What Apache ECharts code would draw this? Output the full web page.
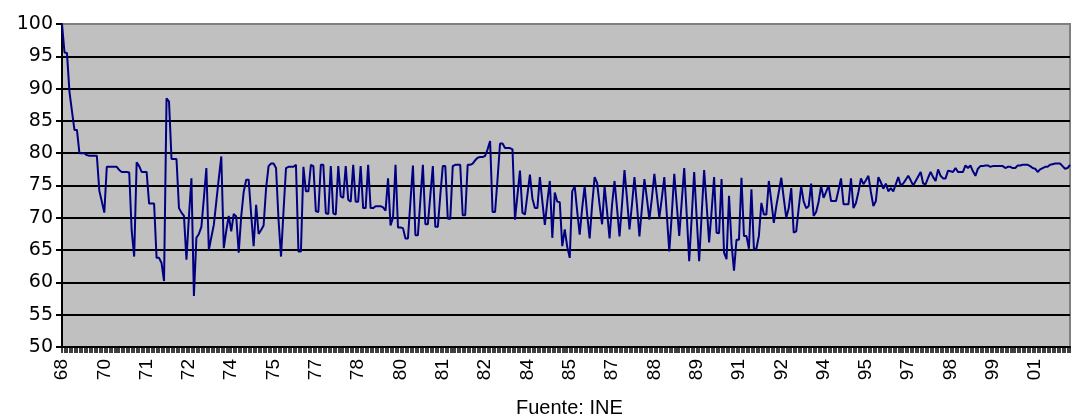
<!DOCTYPE html>
<html>
<head>
<meta charset="utf-8">
<script src="https://cdn.jsdelivr.net/npm/echarts@6/dist/echarts.min.js"></script>
<style>
  html, body { margin: 0; padding: 0; background: #ffffff; }
  #chart { width: 1071px; height: 419px; }
</style>
</head>
<body>
<div id="chart"></div>
<script>
// Monthly index, first observation September 1968
const startYear = 1968;
const startMonth = 9;

// Values in monthly order, split in blocks of 100 months
const valores1968 = [
  100, 95.6, 95.5, 89.5, 86.5, 83.6, 83.6, 80.0, 80.0, 80.0,
  79.7, 79.6, 79.6, 79.6, 79.6, 74.2, 72.5, 70.8, 77.9, 77.9,
  77.9, 77.9, 77.9, 77.4, 77.1, 77.1, 77.1, 77.0, 68.0, 64.0,
  78.6, 78.0, 77.1, 77.1, 77.1, 72.2, 72.2, 72.2, 63.8, 63.8,
  63.0, 60.2, 88.5, 88.0, 79.1, 79.1, 79.1, 71.5, 70.8, 70.3,
  63.5, 70.2, 76.1, 57.9, 66.9, 67.5, 68.6, 73.0, 77.7, 65.0,
  67.0, 68.9, 72.5, 76.1, 79.5, 65.3, 68.0, 70.3, 67.9, 70.6,
  70.2, 64.6, 70.2, 74.0, 75.9, 75.9, 70.5, 65.6, 72.0, 67.5,
  68.1, 68.8, 74.6, 78.0, 78.4, 78.4, 77.7, 69.7, 64.0, 71.0,
  77.7, 77.9, 77.9, 77.9, 78.2, 64.8, 64.8, 77.9, 74.1, 74.1
];
const valores1977 = [
  78.2, 78.0, 71.0, 70.9, 78.2, 78.2, 70.7, 70.6, 78.0, 70.7,
  70.5, 78.0, 73.3, 73.1, 78.0, 72.8, 72.5, 78.2, 72.5, 72.5,
  78.0, 71.5, 71.5, 78.2, 71.5, 71.5, 71.8, 71.8, 71.8, 71.6,
  71.1, 76.1, 68.8, 70.0, 78.2, 68.5, 68.5, 68.4, 66.8, 66.8,
  72.5, 78.1, 67.3, 67.3, 72.8, 78.2, 69.0, 69.0, 73.5, 78.0,
  68.6, 68.6, 73.5, 78.0, 78.0, 69.9, 69.8, 78.0, 78.2, 78.2,
  78.2, 70.4, 70.4, 78.2, 78.2, 78.4, 78.9, 79.3, 79.4, 79.4,
  79.6, 80.6, 81.9, 70.9, 70.9, 76.0, 81.5, 81.5, 80.8, 80.8,
  80.8, 80.6, 69.7, 73.5, 77.3, 70.8, 70.5, 73.6, 76.7, 73.0,
  71.5, 71.5, 76.3, 72.5, 68.9, 72.5, 75.7, 66.9, 73.9, 72.5
];
const valores1985 = [
  72.4, 65.6, 68.2, 65.5, 63.8, 74.1, 74.9, 71.0, 67.4, 71.5,
  74.9, 70.5, 66.8, 72.0, 76.3, 75.4, 72.0, 69.0, 74.9, 71.0,
  66.8, 72.0, 75.7, 71.5, 67.1, 72.0, 77.4, 73.0, 68.2, 72.0,
  76.3, 72.0, 67.1, 71.5, 76.0, 73.0, 69.7, 73.0, 76.8, 73.5,
  70.0, 73.0, 76.3, 70.5, 64.8, 70.5, 76.8, 72.0, 67.2, 72.5,
  77.7, 70.5, 63.3, 70.0, 77.1, 70.0, 63.3, 70.5, 77.4, 72.0,
  66.2, 71.0, 76.3, 67.7, 67.6, 76.0, 64.6, 63.6, 73.4, 66.0,
  61.8, 66.6, 66.6, 76.2, 67.2, 67.2, 65.2, 74.4, 65.2, 65.2,
  67.2, 72.3, 70.5, 70.5, 75.7, 72.5, 69.2, 71.8, 74.0, 76.2,
  73.0, 70.0, 71.5, 74.6, 67.7, 67.9, 71.5, 74.9, 72.5, 71.5
];
const valores1993 = [
  71.8, 75.3, 70.3, 70.9, 72.5, 74.9, 73.1, 74.0, 75.0, 72.6,
  72.6, 72.6, 74.3, 76.1, 72.1, 72.1, 72.1, 76.1, 71.5, 72.3,
  74.0, 76.1, 75.2, 75.8, 76.5, 74.0, 71.8, 72.6, 76.3, 75.5,
  74.5, 75.3, 74.1, 74.6, 74.1, 75.2, 76.3, 75.0, 75.3, 75.9,
  76.5, 75.8, 75.0, 75.7, 76.4, 77.1, 75.3, 75.2, 76.2, 77.1,
  76.3, 75.7, 77.5, 76.5, 76.1, 76.1, 77.3, 77.2, 77.1, 77.7,
  77.1, 77.1, 77.1, 78.1, 77.7, 78.1, 77.2, 76.5, 77.6, 78.0,
  78.0, 78.1, 78.1, 77.9, 78.0, 78.0, 78.0, 78.0, 78.0, 77.7,
  77.9, 77.9, 77.7, 77.7, 78.1, 78.1, 78.2, 78.2, 78.2, 78.0,
  77.7, 77.6, 77.1, 77.5, 77.7, 77.9, 77.9, 78.2, 78.3, 78.4,
  78.4, 78.4, 78.0, 77.6, 77.7, 78.2
];

// Value axis ticks
const yTicks = { min: 50, max: 100, step: 5 };

const valores = [].concat(valores1968, valores1977, valores1985, valores1993);

// One category per month ("1968-09", "1968-10", ...)
const meses = valores.map(function (_, i) {
  const m = startMonth - 1 + i;
  const y = startYear + Math.floor(m / 12);
  const mm = (m % 12) + 1;
  return y + '-' + (mm < 10 ? '0' + mm : mm);
});

const chart = echarts.init(document.getElementById('chart'), null, { renderer: 'canvas' });

chart.setOption({
  animation: false,
  backgroundColor: '#ffffff',
  title: {
    text: 'Fuente: INE',
    left: 516,
    top: 398,
    padding: 0,
    textStyle: {
      fontFamily: 'Liberation Sans',
      fontSize: 20,
      fontWeight: 'normal',
      color: '#000000'
    }
  },
  grid: {
    left: 62,
    right: 1,
    top: 24,
    bottom: 72,
    show: true,
    backgroundColor: '#c0c0c0',
    borderColor: '#808080',
    borderWidth: 2
  },
  xAxis: {
    type: 'category',
    data: meses,
    boundaryGap: false,
    axisLine: { lineStyle: { color: '#000000', width: 2 } },
    axisTick: {
      show: true,
      interval: 0,
      length: 6,
      lineStyle: { color: '#000000', width: 1.5 }
    },
    axisLabel: {
      interval: 16,
      rotate: 90,
      margin: 12,
      fontFamily: 'Liberation Sans',
      fontSize: 19,
      color: '#000000',
      formatter: function (v) { return v.slice(2, 4); }
    },
    splitLine: { show: false }
  },
  yAxis: {
    type: 'value',
    min: yTicks.min,
    max: yTicks.max,
    interval: yTicks.step,
    axisLine: { show: true, lineStyle: { color: '#000000', width: 2 } },
    axisTick: { show: true, length: 6, lineStyle: { color: '#000000', width: 2 } },
    axisLabel: {
      margin: 9,
      fontFamily: 'DejaVu Sans',
      fontSize: 19,
      color: '#000000'
    },
    splitLine: {
      show: true,
      showMaxLine: false,
      lineStyle: { color: '#000000', width: 2 }
    }
  },
  series: [{
    type: 'line',
    data: valores,
    symbol: 'none',
    smooth: false,
    lineStyle: { color: '#000080', width: 2 },
    itemStyle: { color: '#000080' }
  }]
});
</script>
</body>
</html>
